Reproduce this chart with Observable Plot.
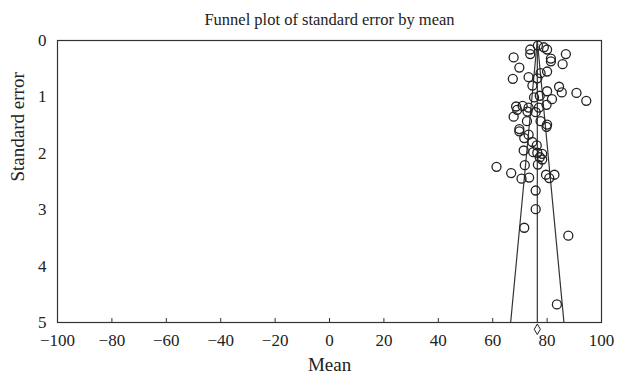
<!DOCTYPE html>
<html>
<head>
<meta charset="utf-8">
<script src="https://cdn.jsdelivr.net/npm/d3@7"></script>
<script src="https://cdn.jsdelivr.net/npm/@observablehq/plot@0.6"></script>
<style>
  html, body { margin: 0; padding: 0; background: #fff; }
  #wrap { width: 629px; font-family: "Liberation Serif", "DejaVu Serif", serif; }
  #title { height: 30px; line-height: 24px; padding-top: 8px; text-align: center; font-size: 16.5px; color: #222; padding-left: 30px; box-sizing: border-box; }
</style>
</head>
<body>
<div id="wrap">
  <div id="title">Funnel plot of standard error by mean</div>
  <div id="chart"></div>
</div>
<script>
const studyMean = [67.7,73.8,73.8,76.6,78.8,80.0,81.4,81.4,86.9,85.7,69.8,67.4,73.2,77.6,80.0,76.4,74.6,84.4,85.4,90.8,94.4,80.0,81.8,75.2,77.3,79.8,68.6,69.0,71.0,73.2,72.8,75.8,77.0,67.7,72.6,77.6,80.0,79.8,69.8,69.8,73.2,71.6,74.6,76.2,71.4,74.9,76.4,78.2,77.3,78.2,76.6,71.8,61.4,66.8,70.6,73.4,79.6,80.8,82.7,75.8,75.8,71.6,87.8,83.6];
const studySE   = [0.30,0.16,0.24,0.09,0.12,0.16,0.32,0.37,0.24,0.42,0.48,0.68,0.65,0.58,0.55,0.67,0.80,0.82,0.92,0.93,1.07,0.90,1.04,1.01,0.98,1.14,1.17,1.23,1.16,1.19,1.26,1.27,1.19,1.35,1.43,1.43,1.49,1.53,1.57,1.61,1.67,1.73,1.80,1.86,1.95,1.98,1.99,2.01,2.07,2.11,2.20,2.21,2.24,2.35,2.45,2.43,2.38,2.44,2.38,2.66,2.99,3.32,3.46,4.68];

const summaryMean = [76.4];
const summarySE = [5.12];
const funnelSE = [0, 5];
const funnelLeft = [76.4, 66.6];
const funnelRight = [76.4, 86.2];
const xTicks = [-100,-80,-60,-40,-20,0,20,40,60,80,100];
const yTicks = [0,1,2,3,4,5];
const xTitle = ["Mean"];
const yTitle = ["Standard error"];

const points = studyMean.map((m, i) => ({mean: m, se: studySE[i]}));
const leftLine = funnelSE.map((s, i) => ({mean: funnelLeft[i], se: s}));
const rightLine = funnelSE.map((s, i) => ({mean: funnelRight[i], se: s}));
const diamond = summaryMean.map((m, i) => ({mean: m, se: summarySE[i]}));

const chart = Plot.plot({
  width: 629,
  height: 347,
  marginLeft: 57,
  marginRight: 28,
  marginTop: 10,
  marginBottom: 55,
  style: {fontFamily: "Liberation Serif, DejaVu Serif, serif", fontSize: "17px", color: "#222", background: "#fff", overflow: "visible"},
  x: {domain: [-100, 100]},
  y: {domain: [0, 5], reverse: true},
  marks: [
    Plot.axisX({ticks: xTicks, tickSize: -4, tickFormat: () => "", label: null, stroke: "#333"}),
    Plot.axisX({ticks: xTicks, tickSize: 0, tickPadding: 11, tickFormat: d => d < 0 ? "\u2212" + Math.abs(d) : String(d), label: null, fontSize: 17, fill: "#222"}),
    Plot.axisY({ticks: yTicks, tickSize: 0, tickPadding: 11, tickFormat: d => String(d), label: null, fontSize: 17, fill: "#222"}),
    Plot.text(xTitle, {text: d => d, frameAnchor: "bottom", dy: 48, fontSize: 19, fill: "#222"}),
    Plot.text(yTitle, {text: d => d, frameAnchor: "left", dx: -40, rotate: -90, fontSize: 19, fill: "#222"}),
    Plot.frame({stroke: "#333", strokeWidth: 1.2}),
    Plot.ruleX(summaryMean, {x: d => d, y1: funnelSE[0], y2: funnelSE[1], stroke: "#333", strokeWidth: 1.2}),
    Plot.line(leftLine, {x: "mean", y: "se", stroke: "#333", strokeWidth: 1.2}),
    Plot.line(rightLine, {x: "mean", y: "se", stroke: "#333", strokeWidth: 1.2}),
    Plot.dot(points, {x: "mean", y: "se", r: 4.5, stroke: "#222", strokeWidth: 1.3, fill: "none"}),
    Plot.dot(diamond, {x: "mean", y: "se", symbol: "diamond", r: 3.2, stroke: "#222", strokeWidth: 1, fill: "#fff", clip: false})
  ]
});
document.getElementById("chart").appendChild(chart);
</script>
</body>
</html>
